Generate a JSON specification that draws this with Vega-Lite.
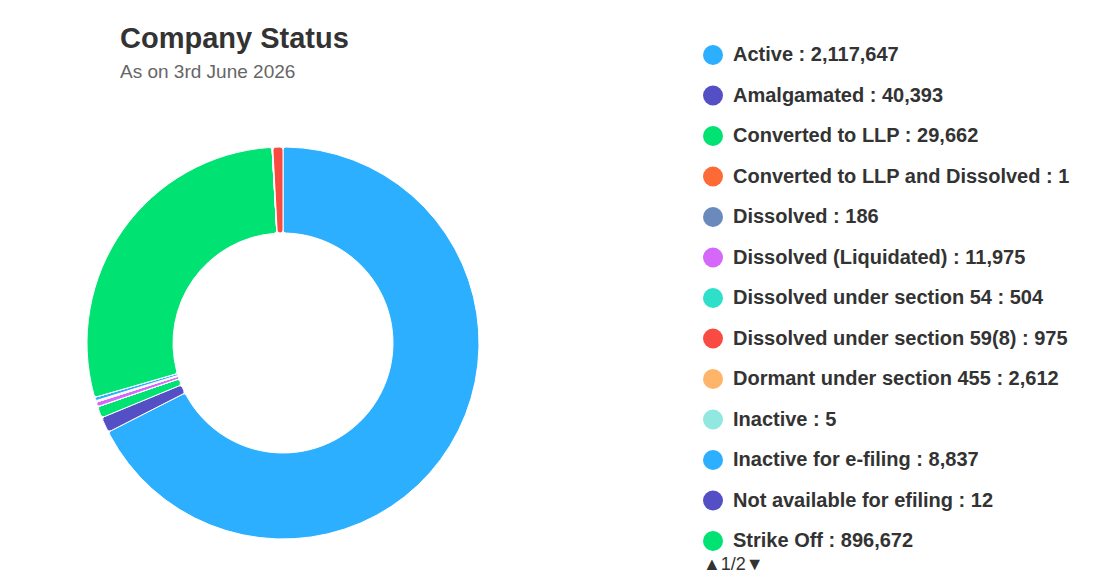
{
  "$schema": "https://vega.github.io/schema/vega-lite/v6.json",
  "width": 392,
  "height": 392,
  "autosize": {"type": "none"},
  "padding": {"left": 87, "top": 147, "right": 632, "bottom": 40},
  "background": "white",
  "title": {
    "text": "Company Status",
    "subtitle": "As on 3rd June 2026",
    "anchor": "start",
    "frame": "group",
    "dx": 33,
    "offset": -37,
    "font": "Liberation Sans",
    "fontSize": 29,
    "fontWeight": "bold",
    "color": "#333333",
    "subtitleFont": "Liberation Sans",
    "subtitleFontSize": 19,
    "subtitleColor": "#666666",
    "subtitlePadding": 9
  },
  "data": {
    "values": [
      {"idx": 1, "status": "Active", "count": 2117647},
      {"idx": 2, "status": "Amalgamated", "count": 40393},
      {"idx": 3, "status": "Converted to LLP", "count": 29662},
      {"idx": 4, "status": "Converted to LLP and Dissolved", "count": 1},
      {"idx": 5, "status": "Dissolved", "count": 186},
      {"idx": 6, "status": "Dissolved (Liquidated)", "count": 11975},
      {"idx": 7, "status": "Dissolved under section 54", "count": 504},
      {"idx": 8, "status": "Dissolved under section 59(8)", "count": 975},
      {"idx": 9, "status": "Dormant under section 455", "count": 2612},
      {"idx": 10, "status": "Inactive", "count": 5},
      {"idx": 11, "status": "Inactive for e-filing", "count": 8837},
      {"idx": 12, "status": "Not available for efiling", "count": 12},
      {"idx": 13, "status": "Strike Off", "count": 896672},
      {"idx": 14, "status": "Temporarily Closed", "count": 60},
      {"idx": 15, "status": "Under CIRP", "count": 180},
      {"idx": 16, "status": "Under Liquidation", "count": 350},
      {"idx": 17, "status": "Vanished", "count": 1450},
      {"idx": 18, "status": "Under Process of Striking Off", "count": 26000}
    ]
  },
  "transform": [
    {"calculate": "datum.status + ' : ' + format(datum.count, ',')", "as": "label"}
  ],
  "mark": {"type": "arc", "innerRadius": 110, "outerRadius": 196, "cornerRadius": 3, "stroke": "white", "strokeWidth": 1},
  "encoding": {
    "theta": {"field": "count", "type": "quantitative", "stack": true},
    "order": {"field": "idx", "type": "quantitative", "sort": "ascending"},
    "color": {
      "field": "label",
      "type": "nominal",
      "sort": null,
      "scale": {"range": ["#2caffe", "#544fc5", "#00e272", "#fe6a35", "#6b8abc", "#d568fb", "#2ee0ca", "#fa4b42", "#feb56a", "#91e8e1", "#2caffe", "#544fc5", "#00e272", "#fe6a35", "#6b8abc", "#d568fb", "#2ee0ca", "#fa4b42"]},
      "legend": {
        "orient": "none",
        "legendX": 616,
        "legendY": -102,
        "padding": 0,
        "title": "▲1/2▼",
        "titleOrient": "bottom",
        "titleFont": "Liberation Sans",
        "titleFontSize": 18,
        "titleFontWeight": "normal",
        "titleColor": "#333333",
        "titlePadding": 5,
        "symbolType": "circle",
        "symbolSize": 400,
        "symbolStrokeWidth": 0,
        "symbolOpacity": 1,
        "labelFont": "Liberation Sans",
        "labelFontSize": 20,
        "labelFontWeight": "bold",
        "labelColor": "#333333",
        "labelOffset": 10,
        "labelLimit": 600,
        "rowPadding": 20.5,
        "values": [
          "Active : 2,117,647",
          "Amalgamated : 40,393",
          "Converted to LLP : 29,662",
          "Converted to LLP and Dissolved : 1",
          "Dissolved : 186",
          "Dissolved (Liquidated) : 11,975",
          "Dissolved under section 54 : 504",
          "Dissolved under section 59(8) : 975",
          "Dormant under section 455 : 2,612",
          "Inactive : 5",
          "Inactive for e-filing : 8,837",
          "Not available for efiling : 12",
          "Strike Off : 896,672"
        ]
      }
    }
  },
  "config": {"view": {"stroke": null}}
}
